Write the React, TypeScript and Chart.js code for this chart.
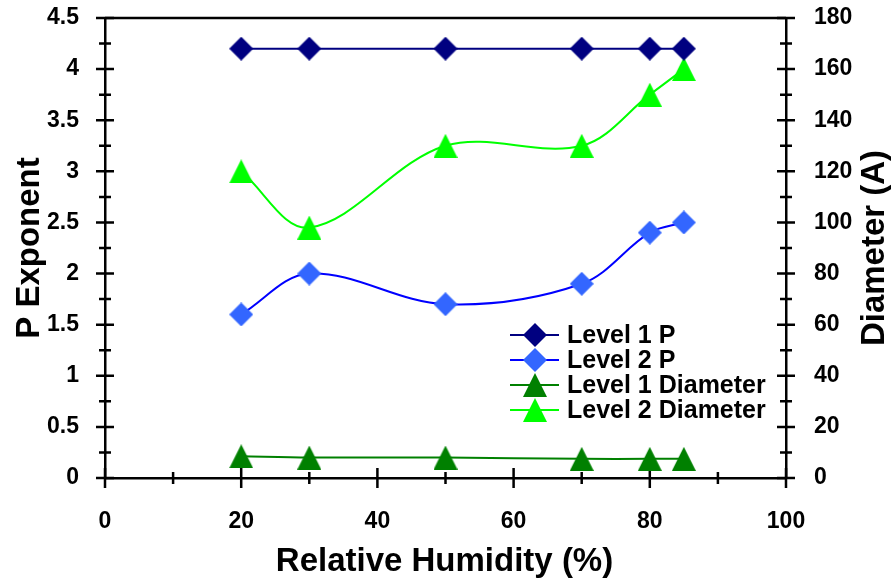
import React, { useEffect, useRef } from "react";
import { Chart, registerables } from "chart.js";

Chart.register(...registerables);

const humidity = [20, 30, 50, 70, 80, 85];
const level1P = [4.2, 4.2, 4.2, 4.2, 4.2, 4.2];
const level2P = [1.6, 2.0, 1.7, 1.9, 2.4, 2.5];
const level1Diameter = [8.5, 8, 8, 7.5, 7.5, 7.5];
const level2Diameter = [120, 98, 130, 130, 150, 160];

const seriesNames = ["Level 1 P", "Level 2 P", "Level 1 Diameter", "Level 2 Diameter"];
const lineColors = ["#000080", "#0000FF", "#008000", "#00FF00"];
const markerColors = ["#000080", "#3366FF", "#008000", "#00FF00"];
const seriesShapes = ["diamond", "diamond", "triangle", "triangle"];

const xTitle = "Relative Humidity (%)";
const yLeftTitle = "P Exponent";
const yRightTitle = "Diameter (A)";

const FONT = "'Liberation Sans', Arial, sans-serif";
const TICK_SIZE = 23;

let legendMarkers: HTMLCanvasElement[] = [];

function pts(ys: number[]) {
  return humidity.map((x, i) => ({ x, y: ys[i] }));
}

function makeMarker(shape: string, color: string): HTMLCanvasElement {
  const c = document.createElement("canvas");
  const s = 24;
  c.width = s;
  c.height = s;
  const ctx = c.getContext("2d")!;
  ctx.fillStyle = color;
  ctx.beginPath();
  if (shape === "diamond") {
    ctx.moveTo(s / 2, 0);
    ctx.lineTo(s, s / 2);
    ctx.lineTo(s / 2, s);
    ctx.lineTo(0, s / 2);
  } else {
    ctx.moveTo(s / 2, 0);
    ctx.lineTo(s, s);
    ctx.lineTo(0, s);
  }
  ctx.closePath();
  ctx.fill();
  return c;
}

const axisDecor = {
  id: "axisDecor",
  beforeDatasetsDraw(chart: any) {
    const ctx = chart.ctx as CanvasRenderingContext2D;
    const { left, right, top, bottom } = chart.chartArea;
    const xs = chart.scales.x;
    const yl = chart.scales.y;
    const yr = chart.scales.y1;
    ctx.save();
    ctx.strokeStyle = "#000";
    ctx.lineWidth = 2.5;
    ctx.beginPath();
    ctx.moveTo(left, top);
    ctx.lineTo(right, top);
    ctx.stroke();
    ctx.beginPath();
    for (let v = 0; v <= 100; v += 10) {
      const px = xs.getPixelForValue(v);
      const h = v % 20 === 0 ? 10 : 6;
      ctx.moveTo(px, bottom - h);
      ctx.lineTo(px, bottom + h);
    }
    for (let i = 0; i <= 18; i++) {
      const v = i * 0.25;
      const py = yl.getPixelForValue(v);
      const h = i % 2 === 0 ? 9 : 6;
      ctx.moveTo(left - h, py);
      ctx.lineTo(left + h, py);
    }
    for (let v = 0; v <= 180; v += 10) {
      const py = yr.getPixelForValue(v);
      const h = v % 20 === 0 ? 9 : 6;
      ctx.moveTo(right - h, py);
      ctx.lineTo(right + h, py);
    }
    ctx.stroke();
    ctx.restore();
  },
  afterDraw(chart: any) {
    const ctx = chart.ctx as CanvasRenderingContext2D;
    const { left, right, top, bottom } = chart.chartArea;
    const midY = (top + bottom) / 2;
    ctx.save();
    ctx.fillStyle = "#000";
    ctx.font = `bold 33px ${FONT}`;
    ctx.textAlign = "center";
    ctx.textBaseline = "middle";
    ctx.fillText(xTitle, (left + right) / 2 - 1, 562);
    ctx.save();
    ctx.translate(30, midY);
    ctx.rotate(-Math.PI / 2);
    ctx.fillText(yLeftTitle, 0, 0);
    ctx.restore();
    ctx.save();
    ctx.translate(875, midY);
    ctx.rotate(-Math.PI / 2);
    ctx.fillText(yRightTitle, 0, 0);
    ctx.restore();

    // legend
    const lx0 = 510, lx1 = 559, mx = 535, tx = 567;
    const rows = [335, 360, 385, 410];
    ctx.font = `bold 25px ${FONT}`;
    ctx.textAlign = "left";
    for (let i = 0; i < 4; i++) {
      const y = rows[i];
      ctx.strokeStyle = lineColors[i];
      ctx.lineWidth = 2;
      ctx.beginPath();
      ctx.moveTo(lx0, y);
      ctx.lineTo(lx1, y);
      ctx.stroke();
      const m = legendMarkers[i];
      if (m) ctx.drawImage(m, mx - m.width / 2, y - m.height / 2);
      ctx.fillStyle = "#000";
      ctx.fillText(seriesNames[i], tx, y + 1);
    }
    ctx.restore();
  },
};

const fmt = (v: any) => String(Math.round(Number(v) * 100) / 100);

export default function App() {
  const ref = useRef<HTMLCanvasElement>(null);
  useEffect(() => {
    document.body.style.margin = "0";
    const markers = seriesShapes.map((s, i) => makeMarker(s, markerColors[i]));
    legendMarkers = markers;
    const datasets = [
      { data: pts(level1P), yAxisID: "y" },
      { data: pts(level2P), yAxisID: "y" },
      { data: pts(level1Diameter), yAxisID: "y1" },
      { data: pts(level2Diameter), yAxisID: "y1" },
    ].map((d, i) => ({
      label: seriesNames[i],
      data: d.data,
      yAxisID: d.yAxisID,
      showLine: true,
      borderColor: lineColors[i],
      backgroundColor: markerColors[i],
      borderWidth: 2,
      pointStyle: markers[i] as any,
      pointRadius: 12,
      pointBorderWidth: 0,
      tension: 0.35,
      clip: false as any,
    }));
    const vfit = (w: number) => (s: any) => {
      s.width = w;
      s.paddingTop = 0;
      s.paddingBottom = 0;
    };
    const tickFont = { family: FONT, size: TICK_SIZE, weight: "bold" };
    const chart = new Chart(ref.current!, {
      type: "scatter",
      data: { datasets },
      plugins: [axisDecor],
      options: {
        animation: false,
        responsive: false,
        layout: { padding: { top: 18 } },
        plugins: { legend: { display: false }, tooltip: { enabled: false } },
        scales: {
          x: {
            type: "linear",
            min: 0,
            max: 100,
            ticks: { stepSize: 20, color: "#000", padding: 22, callback: fmt, font: tickFont },
            grid: { display: false },
            border: { display: true, color: "#000", width: 2.5 },
            afterFit: (s: any) => { s.height = 102; s.paddingLeft = 0; s.paddingRight = 0; },
          },
          y: {
            type: "linear",
            position: "left",
            min: 0,
            max: 4.5,
            ticks: { stepSize: 0.5, color: "#000", padding: 18, callback: fmt, font: tickFont },
            grid: { display: false },
            border: { display: true, color: "#000", width: 2.5 },
            afterFit: vfit(105),
          },
          y1: {
            type: "linear",
            position: "right",
            min: 0,
            max: 180,
            ticks: { stepSize: 20, color: "#000", padding: 20, callback: fmt, font: tickFont },
            grid: { display: false },
            border: { display: true, color: "#000", width: 2.5 },
            afterFit: vfit(110),
          },
        },
      } as any,
    });
    return () => chart.destroy();
  }, []);
  return (
    <div style={{ width: 896, height: 580, background: "#fff" }}>
      <canvas ref={ref} width={896} height={580} style={{ display: "block" }} />
    </div>
  );
}
